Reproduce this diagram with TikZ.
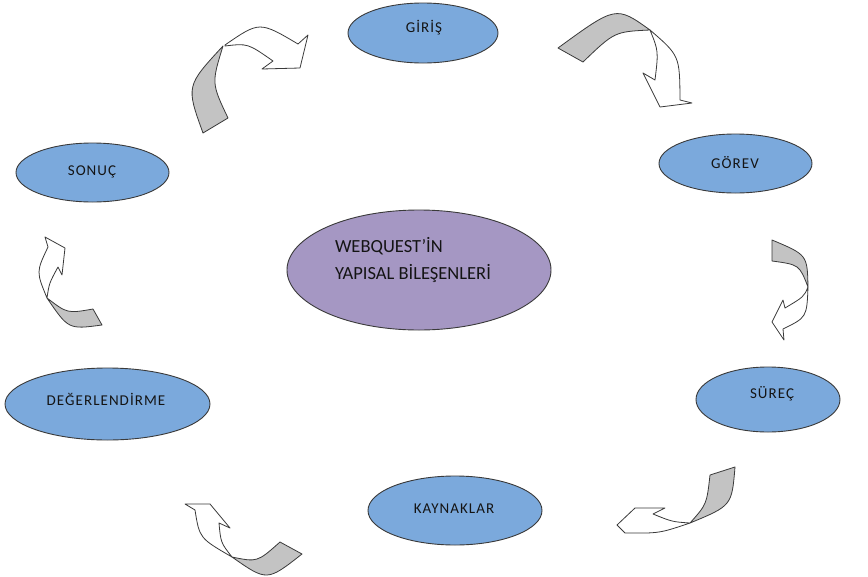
\documentclass[tikz,border=0pt]{standalone}
\usepackage{fontspec}
\setmainfont{Carlito}
\newfontfamily\lblfont[LetterSpace=7]{Carlito}
\usetikzlibrary{shapes.geometric}
\definecolor{ellblue}{HTML}{7BA9DC}
\definecolor{ellpurple}{HTML}{A597C3}
\definecolor{arrgray}{HTML}{C3C3C3}
\definecolor{edgec}{HTML}{3A3A3A}
\definecolor{txt}{HTML}{141414}
\begin{document}
\begin{tikzpicture}[x=1pt,y=-1pt,
  part/.style={ellipse,draw=edgec,line width=0.9pt,fill=ellblue,inner sep=0pt},
  hub/.style={ellipse,draw=edgec,line width=0.9pt,fill=ellpurple,inner sep=0pt},
  lbl/.style={inner sep=0pt,text=txt,font=\lblfont\fontsize{15}{17}\selectfont},
  back/.style={fill=arrgray,draw=edgec,line width=0.8pt,line join=round},
  front/.style={fill=white,draw=edgec,line width=0.8pt,line join=round}]
\useasboundingbox (0,0) rectangle (868,576);
% ellipses
\node[part,minimum width=150pt,minimum height=60pt] (giris) at (423,33) {};
\node[part,minimum width=153pt,minimum height=59pt] (gorev) at (735.5,163.5) {};
\node[part,minimum width=153pt,minimum height=59pt] (sonuc) at (92.5,172.5) {};
\node[hub,minimum width=264pt,minimum height=120pt] (hub) at (419,270) {};
\node[part,minimum width=205pt,minimum height=72pt] (deger) at (107.5,404) {};
\node[part,minimum width=144pt,minimum height=65pt] (surec) at (768,399.5) {};
\node[part,minimum width=174pt,minimum height=69pt] (kayn) at (455,510.5) {};
% labels
\node[lbl] (tgiris) at (424,28) {GİRİŞ};
\node[lbl] (tgorev) at (735,163) {GÖREV};
\node[lbl] (tsonuc) at (92,172) {SONUÇ};
\node[lbl] (tdeger) at (106,399) {DEĞERLENDİRME};
\node[lbl] (tsurec) at (772,394) {SÜREÇ};
\node[lbl] (tkayn) at (454,509) {KAYNAKLAR};
\node[inner sep=0pt,align=left,text=txt,font=\fontsize{18.5}{27}\selectfont] (thub) at (413,260) {WEBQUEST’İN\\YAPISAL BİLEŞENLERİ};
% arrow 1 (SONUC -> GIRIS)
\path[back] (223,46) .. controls (186,86) .. (203,133) -- (228,118) .. controls (211.5,83.3) .. (223,46) -- cycle;
\path[front] (225,45) .. controls (259.5,21.2) .. (298,44) -- (308,35) -- (300,68) -- (262,69) -- (273,61) .. controls (247.7,43.3) .. (225,46) -- cycle;
% arrow 2 (GIRIS -> GOREV)
\path[back] (558,48) .. controls (616,5.7) .. (650,30) .. controls (614.5,31.7) .. (583,62) -- cycle;
\path[front] (650,30) .. controls (679.7,55.7) .. (680,100) -- (692,103) -- (660,107) -- (643,73) -- (655,80) .. controls (658.5,51) .. (650,30) -- cycle;
% arrow 3 (GOREV -> SUREC)
\path[back] (772,240) .. controls (807.3,254.8) .. (808,287) .. controls (799.3,264.7) .. (772,261) -- cycle;
\path[front] (808,287) .. controls (806.8,317.3) .. (783,329) -- (784,340) -- (772,322) -- (783,300) -- (785,308) .. controls (803.8,296.8) .. (808,287) -- cycle;
% arrow 4 (SUREC -> KAYNAKLAR)
\path[back] (710,475) -- (735,467) .. controls (731.8,505.7) .. (690,523) .. controls (706.7,504.3) .. (710,475) -- cycle;
\path[front] (690,523) .. controls (659.5,533.3) .. (625,533) -- (617,525) -- (635,508) -- (665,508) -- (653,514) .. controls (672.2,521.8) .. (690,523) -- cycle;
% arrow 5 (KAYNAKLAR -> DEGERLENDIRME)
\path[back] (280,542) -- (302,554) .. controls (267,581.5) .. (232,557) .. controls (257.3,562.2) .. (280,542) -- cycle;
\path[front] (232,557) .. controls (199.5,538.2) .. (195,510) -- (185,504) -- (210,504) -- (230,528) -- (219,523) .. controls (220.8,542.7) .. (232,557) -- cycle;
% arrow 6 (DEGERLENDIRME -> SONUC)
\path[back] (93,309) -- (102,325) .. controls (68.5,329.5) .. (47,298) .. controls (67.3,313.5) .. (93,309) -- cycle;
\path[front] (47,298) .. controls (36.2,271.8) .. (48,247) -- (45,237) -- (65,248) -- (62,275) -- (58,267) .. controls (49.2,283.2) .. (47,298) -- cycle;
\end{tikzpicture}
\end{document}
